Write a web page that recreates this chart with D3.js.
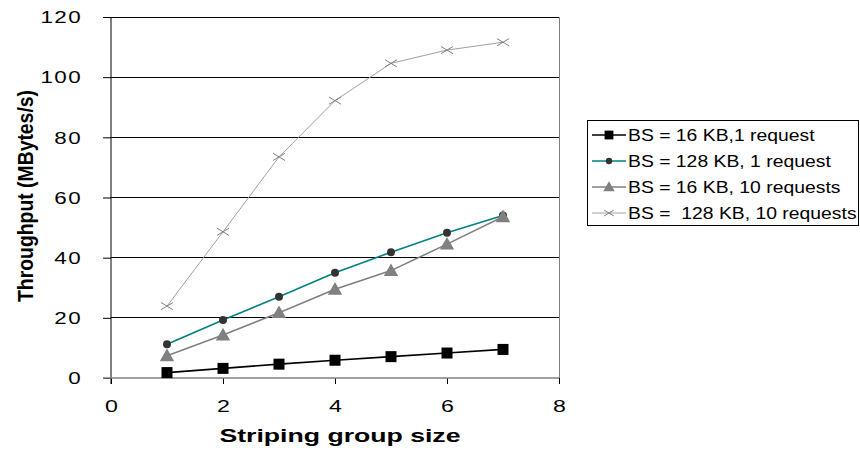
<!DOCTYPE html>
<html><head><meta charset="utf-8">
<script src="https://cdn.jsdelivr.net/npm/d3@7"></script>
<style>body{margin:0;background:#fff}svg{display:block}</style>
</head><body>
<svg id="c" width="860" height="450"></svg>
<script>
const xValues = [1, 2, 3, 4, 5, 6, 7];
const s16k1 = [1.8, 3.2, 4.6, 5.9, 7.1, 8.3, 9.5];
const s128k1 = [11.2, 19.3, 27.0, 35.0, 41.8, 48.3, 54.0];
const s16k10 = [7.4, 14.3, 21.7, 29.5, 35.7, 44.5, 53.6];
const s128k10 = [23.9, 48.6, 73.5, 92.2, 104.6, 109.0, 111.6];
const seriesNames = ["BS = 16 KB,1 request", "BS = 128 KB, 1 request", "BS = 16 KB, 10 requests", "BS =  128 KB, 10 requests"];
const yTicks = [0, 20, 40, 60, 80, 100, 120];
const xTicks = [0, 2, 4, 6, 8];

const series = [
  {name: seriesNames[0], values: s16k1, color: "#000", marker: "square"},
  {name: seriesNames[1], values: s128k1, color: "#008080", markerColor: "#333", marker: "circle"},
  {name: seriesNames[2], values: s16k10, color: "#808080", marker: "triangle"},
  {name: seriesNames[3], values: s128k10, color: "#a0a0a0", markerColor: "#808080", marker: "x"}
];

const svg = d3.select("#c");
const L = 111, R = 559, T = 17, B = 378;
const x = d3.scaleLinear().domain([0, 8]).range([L, R]);
const y = d3.scaleLinear().domain([0, 120]).range([B, T]);
const font = "Arial, 'Liberation Sans', sans-serif";

// stretch a text horizontally around its anchor point
function stretch(sel, sx) {
  sel.each(function() {
    const t = d3.select(this);
    const ax = +t.attr("x") || 0, ay = +t.attr("y") || 0;
    t.attr("x", 0).attr("y", 0)
     .attr("transform", `translate(${ax},${ay}) scale(${sx},1)`);
  });
}

// gridlines
svg.append("g").selectAll("line").data(yTicks.filter(d => d > 0)).join("line")
  .attr("x1", L).attr("x2", R).attr("y1", d => y(d)).attr("y2", d => y(d))
  .attr("stroke", "#000").attr("stroke-width", 1).attr("shape-rendering", "crispEdges");
// right border
svg.append("line").attr("x1", R).attr("x2", R).attr("y1", T).attr("y2", B)
  .attr("stroke", "#808080").attr("shape-rendering", "crispEdges");

// y axis
const ya = svg.append("g").attr("transform", `translate(${L},0)`)
  .call(d3.axisLeft(y).tickValues(yTicks).tickSize(8).tickPadding(21));
ya.select(".domain").remove();
ya.append("line").attr("x1", 0).attr("x2", 0).attr("y1", T).attr("y2", B + 6).attr("stroke", "#000");
ya.selectAll(".tick line").attr("stroke", "#000");
ya.selectAll(".tick text").attr("font-family", font).attr("font-size", 16).attr("fill", "#000")
  .attr("dy", "0.36em").attr("letter-spacing", 1).call(stretch, 1.4);

// x axis
const xa = svg.append("g").attr("transform", `translate(0,${B})`)
  .call(d3.axisBottom(x).tickValues(xTicks).tickSize(6).tickPadding(0));
xa.select(".domain").remove();
xa.append("line").attr("x1", L - 8).attr("x2", R).attr("y1", 0).attr("y2", 0).attr("stroke", "#808080").attr("stroke-width", 1.5);
xa.selectAll(".tick line").attr("stroke", "#000");
xa.selectAll(".tick text").attr("font-family", font).attr("font-size", 16).attr("fill", "#000")
  .attr("dy", null).attr("y", 34).call(stretch, 1.45);

// titles
const xt = svg.append("text").attr("x", 340).attr("y", 442).attr("text-anchor", "middle")
  .attr("font-family", font).attr("font-weight", "bold").attr("font-size", 18)
  .text("Striping group size");
xt.attr("textLength", 241).attr("lengthAdjust", "spacingAndGlyphs");

svg.append("text").attr("transform", "translate(33,196) scale(1.3,1) rotate(-90)").attr("text-anchor", "middle")
  .attr("font-family", font).attr("font-weight", "bold").attr("font-size", 17)
  .attr("textLength", 212).attr("lengthAdjust", "spacingAndGlyphs")
  .text("Throughput (MBytes/s)");

function drawMarker(g, type, color, size) {
  if (type === "square") {
    g.append("rect").attr("x", -size/2).attr("y", -size/2).attr("width", size).attr("height", size).attr("fill", color);
  } else if (type === "circle") {
    g.append("circle").attr("r", size/2).attr("fill", color);
  } else if (type === "triangle") {
    const h = size;
    g.append("path").attr("d", `M0,${-h*0.6}L${h*0.6},${h*0.45}L${-h*0.6},${h*0.45}Z`).attr("fill", color);
  } else if (type === "x") {
    const s = size/2;
    g.append("path").attr("d", `M${-s},${-s*0.6}L${s},${s*0.6}M${-s},${s*0.6}L${s},${-s*0.6}`)
      .attr("stroke", color).attr("stroke-width", 1).attr("fill", "none");
  }
}
const markerSize = {square: 11, circle: 8, triangle: 12, x: 12};

const line = d3.line().x((d, i) => x(xValues[i])).y(d => y(d));
series.forEach(s => {
  svg.append("path").datum(s.values).attr("d", line).attr("fill", "none")
    .attr("stroke", s.color).attr("stroke-width", s.marker === "x" ? 1 : 1.6);
  s.values.forEach((v, i) => {
    const g = svg.append("g").attr("transform", `translate(${x(xValues[i])},${y(v)})`);
    drawMarker(g, s.marker, s.markerColor || s.color, markerSize[s.marker]);
  });
});

// legend
svg.append("rect").attr("x", 587.5).attr("y", 120.5).attr("width", 271).attr("height", 105)
  .attr("fill", "#fff").attr("stroke", "#000").attr("stroke-width", 1);
const legY = [135, 161, 187, 213];
series.forEach((s, i) => {
  const g = svg.append("g").attr("transform", `translate(0,${legY[i]})`);
  g.append("line").attr("x1", 592).attr("x2", 626).attr("y1", 0).attr("y2", 0)
    .attr("stroke", s.color).attr("stroke-width", s.marker === "x" ? 1 : 1.6);
  const mg = g.append("g").attr("transform", "translate(609,0)");
  drawMarker(mg, s.marker, s.markerColor || s.color, markerSize[s.marker] * 0.8);
  g.append("text").attr("x", 628).attr("y", 0).attr("dy", "0.36em")
    .attr("font-family", font).attr("font-size", 16).style("white-space", "pre")
    .text(s.name).call(stretch, 1.21);
});
</script>
</body></html>
